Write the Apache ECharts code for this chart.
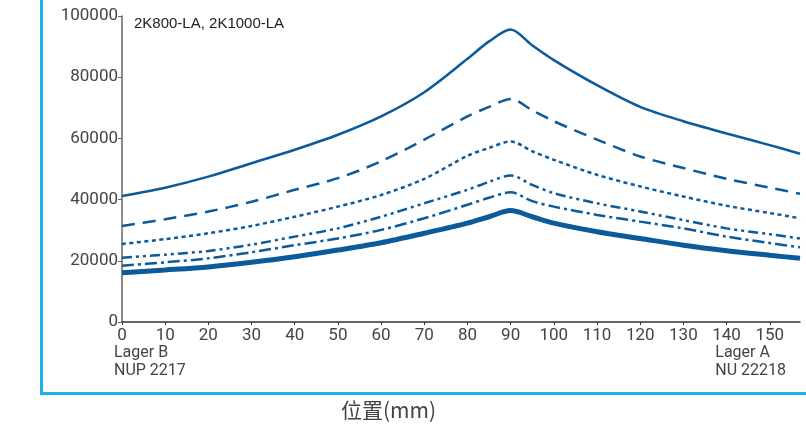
<!DOCTYPE html>
<html>
<head>
<meta charset="utf-8">
<script src="https://cdn.jsdelivr.net/npm/echarts@6/dist/echarts.min.js"></script>
<style>
  html, body { margin: 0; padding: 0; background: #fff; }
  #chart { width: 806px; height: 427px; }
</style>
</head>
<body>
<div id="chart"></div>
<script>
  // position along the shaft (mm)
  let xs = [0, 10, 20, 30, 40, 50, 60, 70, 80, 85, 90, 95, 100, 110, 120, 130, 140, 150, 157];
  let xTicks = [0, 10, 20, 30, 40, 50, 60, 70, 80, 90, 100, 110, 120, 130, 140, 150];

  // six load curves, top to bottom
  let solidTop = [41200, 43900, 47500, 51900, 56300, 61200, 67200, 75100, 86000, 91700, 95600, 90400, 85600, 77400, 70300, 65600, 61600, 57800, 55000];
  let dashed   = [31400, 33600, 36100, 39300, 43200, 47000, 52500, 59600, 67200, 70300, 72900, 69200, 65600, 59600, 54100, 50300, 46800, 43900, 41900];
  let dotted   = [25500, 27100, 29000, 31400, 34400, 37700, 41500, 46800, 54300, 56900, 59000, 55800, 53000, 48100, 44300, 41000, 38000, 35600, 33900];
  let dashDot2 = [21000, 22000, 23200, 25300, 27900, 30600, 34400, 38800, 43200, 45800, 47900, 44800, 42100, 38800, 36100, 33300, 30600, 28700, 27300];
  let dashDot  = [18400, 19500, 20800, 22800, 25100, 27300, 30100, 33900, 38300, 40600, 42400, 39500, 37700, 35000, 32800, 30600, 27900, 25800, 24400];
  let thick    = [16100, 17000, 18000, 19500, 21300, 23500, 25900, 29000, 32300, 34400, 36400, 34400, 32300, 29500, 27300, 25100, 23300, 21800, 20800];

  let blue = '#0a5a9c';
  let cyan = '#18b4e9';

  function line (vals, width, type) {
    return {
      type: 'line',
      data: xs.map((x, i) => [x, vals[i]]),
      smooth: 0.3,
      showSymbol: false,
      silent: true,
      lineStyle: { color: blue, width: width, type: type, cap: 'butt' }
    };
  }

  let chart = echarts.init(document.getElementById('chart'));
  let option = {
    animation: false,
    grid: { left: 122, right: 6, top: 16, bottom: 105, containLabel: false, outerBoundsMode: 'none' },
    xAxis: {
      type: 'value',
      min: 0,
      max: 157,
      interval: 10,
      axisLine: { lineStyle: { color: '#333', width: 1.5 } },
      axisTick: { length: 3, customValues: xTicks, lineStyle: { color: '#333' } },
      axisLabel: { customValues: xTicks, color: '#444', fontSize: 17, fontFamily: 'Roboto', margin: 5 },
      splitLine: { show: false }
    },
    yAxis: {
      type: 'value',
      min: 0,
      max: 100000,
      interval: 20000,
      axisLine: { show: true, lineStyle: { color: '#666', width: 1.5 } },
      axisTick: { show: true, length: 4, lineStyle: { color: '#666' } },
      axisLabel: { color: '#444', fontSize: 17, fontFamily: 'Roboto', margin: 4, formatter: v => String(v) },
      splitLine: { show: false }
    },
    series: [
      line(solidTop, 2.5, 'solid'),
      line(dashed, 2.5, [13, 8]),
      line(dotted, 2.5, [4, 3.5]),
      line(dashDot2, 2.5, [10, 4, 3, 4, 3, 4]),
      line(dashDot, 2.5, [12, 4, 3, 4]),
      line(thick, 5, 'solid')
    ],
    graphic: [
      { type: 'rect', left: 40, top: 0, shape: { width: 3, height: 395 }, style: { fill: cyan } },
      { type: 'rect', left: 40, top: 392, shape: { width: 766, height: 3 }, style: { fill: cyan } },
      {
        type: 'text', left: 134, top: 16,
        style: { text: '2K800-LA, 2K1000-LA', fill: '#222', font: '15px "Liberation Sans"' }
      },
      {
        type: 'text', left: 114, top: 344,
        style: { text: 'Lager B\nNUP 2217', fill: '#444', font: '16px Roboto', lineHeight: 18 }
      },
      {
        type: 'text', right: 20, top: 344,
        style: { text: 'Lager A\nNU 22218', fill: '#444', font: '16px Roboto', lineHeight: 18, align: 'right' }
      },
      {
        type: 'text', left: 341, top: 400,
        style: { text: '位置(mm)', fill: '#444', font: '21px "Noto Sans CJK SC"' }
      }
    ]
  };
  chart.setOption(option);
</script>
</body>
</html>
